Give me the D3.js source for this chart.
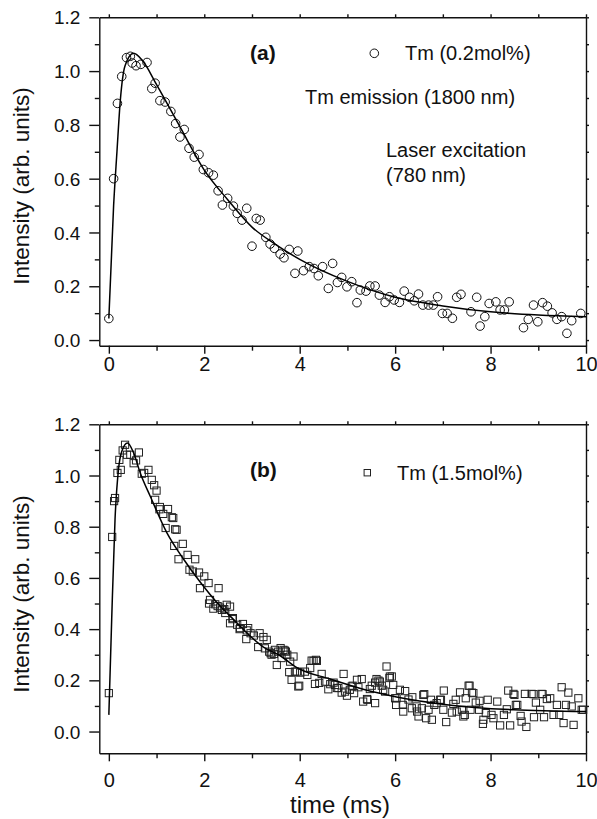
<!DOCTYPE html>
<html><head>
<meta charset="utf-8">
<script src="https://d3js.org/d3.v7.min.js"></script>
<style>
  body { margin: 0; background: #fff; }
  svg text { font-family: "Liberation Sans", Arial, sans-serif; fill: #111; }
  .axis path, .axis line { stroke: #111; stroke-width: 1.4px; }
</style>
</head>
<body>
<svg id="chart" width="597" height="819"></svg>
<script>

// ---- data ----
// panel (a): Tm 0.2 mol%, measured points [time ms, intensity]
const pointsA = [
  [0,0.08],[0.10,0.60],[0.18,0.88],[0.27,0.98],[0.37,1.05],[0.45,1.055],[0.49,1.03],[0.57,1.02],
  [0.67,1.025],[0.80,1.032],[0.90,0.935],[0.97,0.955],[1.07,0.89],[1.18,0.885],[1.30,0.85],[1.40,0.805],
  [1.49,0.755],[1.58,0.783],[1.68,0.713],[1.79,0.68],[1.89,0.69],[1.98,0.634],[2.09,0.622],[2.19,0.613],
  [2.29,0.555],[2.38,0.502],[2.49,0.527],[2.61,0.498],[2.69,0.471],[2.79,0.446],[2.89,0.49],[3.00,0.349],
  [3.09,0.452],[3.17,0.446],[3.29,0.382],[3.38,0.357],[3.47,0.341],[3.59,0.32],[3.67,0.306],[3.78,0.337],
  [3.90,0.248],[3.96,0.331],[4.08,0.258],[4.20,0.273],[4.30,0.266],[4.39,0.239],[4.48,0.273],[4.60,0.192],
  [4.69,0.285],[4.79,0.214],[4.88,0.233],[4.99,0.198],[5.09,0.217],[5.20,0.139],[5.27,0.186],[5.39,0.182],
  [5.47,0.201],[5.58,0.201],[5.67,0.167],[5.79,0.14],[5.88,0.161],[5.98,0.149],[6.09,0.14],[6.19,0.182],
  [6.30,0.159],[6.40,0.146],[6.49,0.171],[6.58,0.13],[6.70,0.13],[6.80,0.13],[6.89,0.161],[6.99,0.099],
  [7.09,0.099],[7.20,0.081],[7.29,0.159],[7.38,0.17],[7.59,0.105],[7.71,0.159],[7.78,0.052],[7.88,0.087],
  [7.97,0.136],[8.11,0.142],[8.20,0.112],[8.29,0.112],[8.39,0.142],[8.69,0.046],[8.79,0.077],[8.90,0.13],
  [8.99,0.068],[9.09,0.139],[9.19,0.126],[9.29,0.101],[9.39,0.077],[9.49,0.087],[9.60,0.025],[9.70,0.072],
  [9.89,0.099]
];
// fitted curve (a), traced
const fitA = [
  [0,0.08],[0.10,0.50],[0.17,0.70],[0.24,0.89],[0.34,1.02],[0.52,1.066],[0.70,1.04],[1.0,0.95],
  [1.5,0.79],[2.0,0.632],[2.5,0.52],[3.0,0.42],[3.5,0.355],[4.0,0.30],[5.0,0.218],[6.0,0.159],
  [7.0,0.127],[8.0,0.105],[9.0,0.093],[10.0,0.087]
];

// panel (b): Tm 1.5 mol%
const pointsB = [
  [0,0.15],[0.07,0.76],[0.11,0.90],[0.13,0.912],[0.18,1.01],[0.22,1.061],[0.25,1.022],[0.29,1.098],
  [0.34,1.12],[0.38,1.081],[0.45,1.081],[0.52,1.048],[0.57,1.059],[0.63,1.09],[0.69,1.007],[0.74,1.01],
  [0.83,1.022],[0.90,0.983],[0.95,0.962],[0.97,0.905],[1.0,0.941],
  [1.06,0.868],[1.07,0.877],[1.14,0.85],[1.19,0.795],[1.24,0.869],[1.32,0.837],[1.35,0.834],[1.39,0.79],
  [1.42,0.788],[1.37,0.725],[1.46,0.673],[1.55,0.733],[1.65,0.69],[1.69,0.632],[1.76,0.625],[1.81,0.673],
  [1.89,0.621],[1.91,0.56],[2.0,0.606],
  [2.09,0.58],[2.10,0.50],[2.12,0.514],[2.19,0.48],[2.23,0.497],[2.28,0.49],[2.30,0.56],[2.33,0.484],
  [2.37,0.475],[2.42,0.478],[2.44,0.463],[2.47,0.495],[2.54,0.488],[2.54,0.423],[2.59,0.439],[2.60,0.443],
  [2.69,0.417],[2.74,0.40],[2.75,0.404],[2.81,0.42],[2.88,0.361],[2.89,0.395],[2.92,0.404],[2.97,0.384],
  [3.04,0.375],[3.13,0.33],[3.16,0.384],[3.24,0.369],[3.27,0.325],[3.31,0.358],[3.36,0.312],[3.39,0.306],
  [3.41,0.30],[3.46,0.303],[3.48,0.319],[3.52,0.26],[3.55,0.312],[3.60,0.326],[3.62,0.287],[3.66,0.319],
  [3.69,0.316],[3.71,0.312],[3.74,0.30],[3.78,0.232],[3.80,0.273],[3.83,0.202],[3.87,0.293],[3.90,0.234],
  [3.94,0.234],[3.97,0.176],[3.99,0.179],
  [4.01,0.23],[4.11,0.234],[4.16,0.221],[4.22,0.248],[4.25,0.277],[4.29,0.276],[4.32,0.186],[4.34,0.28],
  [4.36,0.276],[4.41,0.19],[4.46,0.225],[4.53,0.195],[4.60,0.165],[4.64,0.185],[4.71,0.191],[4.74,0.182],
  [4.78,0.17],[4.81,0.17],[4.88,0.152],[4.92,0.225],[4.95,0.156],[4.99,0.14],
  [5.05,0.163],[5.09,0.176],[5.11,0.179],[5.14,0.15],[5.20,0.202],[5.23,0.173],[5.30,0.205],[5.33,0.117],
  [5.41,0.127],[5.42,0.124],[5.47,0.166],[5.51,0.179],[5.58,0.111],[5.58,0.191],[5.61,0.205],[5.65,0.199],
  [5.68,0.195],[5.72,0.179],[5.75,0.163],[5.79,0.156],[5.82,0.254],[5.88,0.209],[5.89,0.215],[5.93,0.215],
  [5.96,0.182],
  [6.0,0.13],[6.02,0.104],[6.03,0.13],[6.10,0.163],[6.16,0.104],[6.17,0.078],[6.21,0.158],[6.28,0.125],
  [6.35,0.091],[6.36,0.134],[6.45,0.098],[6.46,0.078],[6.49,0.059],[6.56,0.091],[6.59,0.143],[6.61,0.146],
  [6.65,0.052],[6.70,0.085],[6.75,0.124],[6.77,0.046],[6.82,0.104],[6.87,0.111],[6.94,0.124],[6.96,0.124],
  [7.01,0.085],[7.02,0.16],[7.07,0.037],[7.19,0.074],[7.22,0.108],[7.27,0.124],[7.29,0.078],[7.36,0.153],
  [7.40,0.085],[7.43,0.059],[7.46,0.065],[7.48,0.13],[7.54,0.179],[7.56,0.179],[7.58,0.085],[7.61,0.152],
  [7.64,0.15],[7.69,0.113],[7.76,0.085],[7.77,0.12],[7.84,0.03],[7.85,0.046],[7.90,0.072],[7.94,0.124],
  [8.02,0.065],[8.06,0.052],[8.14,0.117],[8.20,0.024],[8.28,0.065],[8.34,0.087],[8.37,0.16],[8.41,0.024],
  [8.48,0.147],[8.50,0.143],[8.53,0.104],[8.56,0.104],[8.63,0.061],[8.65,0.039],[8.72,0.147],[8.75,0.018],
  [8.86,0.147],[8.90,0.146],[8.91,0.056],[8.95,0.113],
  [9.04,0.085],[9.07,0.147],[9.09,0.146],[9.12,0.056],[9.18,0.127],[9.25,0.13],[9.32,0.065],[9.39,0.104],
  [9.44,0.065],[9.49,0.173],[9.53,0.033],[9.58,0.104],[9.63,0.152],[9.70,0.098],[9.74,0.026],[9.84,0.13],
  [9.91,0.085],[9.94,0.085]
];
const fitB = [
  [0,0.065],[0.06,0.44],[0.13,0.83],[0.20,1.02],[0.27,1.094],[0.39,1.127],[0.52,1.088],[0.66,1.009],
  [0.87,0.918],[1.22,0.775],[1.56,0.675],[1.91,0.585],[2.26,0.505],[2.60,0.44],[3.24,0.33],[3.60,0.295],
  [3.94,0.25],[4.64,0.205],[5.33,0.165],[6.03,0.135],[7.08,0.105],[8.48,0.085],[10.0,0.078]
];

const xTicks = [0, 2, 4, 6, 8, 10];
const xMinor = [1, 3, 5, 7, 9];
const yTicks = [0, 0.2, 0.4, 0.6, 0.8, 1.0, 1.2];
const yMinor = [0.1, 0.3, 0.5, 0.7, 0.9, 1.1];
const yFine = d3.range(0, 12.5).map(d => d / 10);   // right-hand ticks every 0.1

const svg = d3.select("#chart");

function drawPanel(p) {
  const x = d3.scaleLinear().domain([-0.2, 10]).range([99.3, 586]);
  const y = d3.scaleLinear().domain([p.yMin, 1.2]).range([p.bottom, p.top]);
  const g = svg.append("g");

  // frame + ticks
  g.append("g").attr("class", "axis").attr("transform", `translate(0,${p.bottom})`)
    .call(d3.axisBottom(x).tickValues(xTicks).tickSize(8).tickSizeOuter(0).tickPadding(p.xPad).tickFormat(d3.format("d")))
    .call(a => a.selectAll("text").attr("font-size", 20));
  g.append("g").attr("class", "axis").attr("transform", `translate(0,${p.bottom})`)
    .call(d3.axisBottom(x).tickValues(xMinor).tickSize(5).tickSizeOuter(0).tickFormat(""))
    .call(a => a.select(".domain").remove());
  g.append("g").attr("class", "axis").attr("transform", `translate(0,${p.top})`)
    .call(d3.axisTop(x).tickValues(d3.range(0, 11)).tickSize(3).tickSizeOuter(0).tickFormat(""));

  g.append("g").attr("class", "axis").attr("transform", "translate(99.3,0)")
    .call(d3.axisLeft(y).tickValues(yTicks).tickSize(10).tickSizeOuter(0).tickPadding(9).tickFormat(d3.format(".1f")))
    .call(a => a.selectAll("text").attr("font-size", 19).attr("dy", "0.35em"));
  g.append("g").attr("class", "axis").attr("transform", "translate(99.3,0)")
    .call(d3.axisLeft(y).tickValues(yMinor).tickSize(4.5).tickSizeOuter(0).tickFormat(""))
    .call(a => a.select(".domain").remove());
  g.append("g").attr("class", "axis").attr("transform", "translate(586,0)")
    .call(d3.axisRight(y).tickValues(yFine).tickSize(3).tickSizeOuter(0).tickFormat(""));

  g.selectAll(".axis text").attr("fill", "#111");

  // y label
  g.append("text")
    .attr("transform", `translate(29,${p.labelY}) rotate(-90)`)
    .attr("text-anchor", "middle")
    .attr("font-size", 22.5)
    .text("Intensity (arb. units)");

  // data markers
  if (p.marker === "circle") {
    g.append("g").selectAll("circle").data(p.points).join("circle")
      .attr("cx", d => x(d[0])).attr("cy", d => y(d[1])).attr("r", 4.3)
      .attr("fill", "none").attr("stroke", "#111").attr("stroke-width", 1);
  } else {
    g.append("g").selectAll("rect").data(p.points).join("rect")
      .attr("x", d => x(d[0]) - 3.6).attr("y", d => y(d[1]) - 3.6)
      .attr("width", 7.2).attr("height", 7.2)
      .attr("fill", "none").attr("stroke", "#222").attr("stroke-width", 1);
  }

  // fitted curve
  const line = d3.line().x(d => x(d[0])).y(d => y(d[1])).curve(d3.curveMonotoneX);
  g.append("path").datum(p.fit)
    .attr("d", line).attr("fill", "none").attr("stroke", "#000").attr("stroke-width", 1.5);

  // panel tag + legend
  g.append("text").attr("x", 250).attr("y", p.top + p.tagDy)
    .attr("font-size", 21).attr("font-weight", "bold").text(p.tag);
  if (p.marker === "circle") {
    g.append("circle").attr("cx", p.legX).attr("cy", p.top + p.legDy).attr("r", 4.3)
      .attr("fill", "none").attr("stroke", "#111").attr("stroke-width", 1);
  } else {
    g.append("rect").attr("x", p.legX - 3.2).attr("y", p.top + p.legDy - 3.2)
      .attr("width", 6.4).attr("height", 6.4)
      .attr("fill", "none").attr("stroke", "#222").attr("stroke-width", 1);
  }
  g.append("text").attr("x", p.legTextX).attr("y", p.top + p.legDy + 7)
    .attr("font-size", 20).text(p.legend);

  return g;
}

const gA = drawPanel({
  top: 17.3, bottom: 345.7, yMin: -0.021, xPad: 3, labelY: 186,
  points: pointsA, fit: fitA, marker: "circle",
  tag: "(a)", tagDy: 43, legX: 374.3, legDy: 36, legTextX: 405, legend: "Tm (0.2mol%)"
});
gA.append("text").attr("x", 305).attr("y", 104).attr("font-size", 20).text("Tm emission (1800 nm)");
gA.append("text").attr("x", 386).attr("y", 157).attr("font-size", 20).text("Laser excitation");
gA.append("text").attr("x", 386).attr("y", 182).attr("font-size", 20).text("(780 nm)");

drawPanel({
  top: 424.3, bottom: 753.3, yMin: -0.085, xPad: 12, labelY: 594,
  points: pointsB, fit: fitB, marker: "square",
  tag: "(b)", tagDy: 53, legX: 367.3, legDy: 48.4, legTextX: 397, legend: "Tm (1.5mol%)"
});

svg.append("text").attr("x", 340).attr("y", 813).attr("text-anchor", "middle")
  .attr("font-size", 24).text("time (ms)");

</script>
</body></html>
